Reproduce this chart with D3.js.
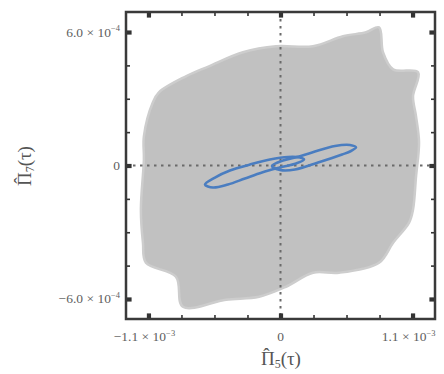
<!DOCTYPE html>
<html>
<head>
<meta charset="utf-8">
<script src="https://cdn.jsdelivr.net/npm/d3@7"></script>
<style>
  body { margin: 0; background: #fff; }
  text { font-family: "Liberation Serif", "DejaVu Serif", serif; }
</style>
</head>
<body>
<div id="chart"></div>
<script>
// x values in units of 1e-3, y values in units of 1e-4

// outline of the grey cloud of trajectories
var cloudX = [0.821, 0.854, 0.938, 1.146, 1.104, 1.129, 1.154, 1.129, 1.104, 1.071, 0.938, 0.821,
  0.488, 0.271, 0.046, -0.179, -0.454, -0.813, -0.871, -1.121, -1.146, -1.163, -1.138, -1.138,
  -1.063, -1.013, -0.788, -0.596, -0.313, -0.038, 0.271, 0.521, 0.713];
var cloudY = [6.21, 5.09, 4.32, 4.19, 3.11, 2.21, 1.04, -0.50, -1.98, -2.57, -3.47, -4.37,
  -4.82, -4.82, -5.45, -5.90, -6.03, -6.35, -5.00, -4.37, -3.47, -1.98, 0.27, 1.31,
  2.84, 3.29, 4.01, 4.46, 5.09, 5.36, 5.36, 5.81, 5.99];

// blue orbit, two overlapping loops
var loopAX = [-0.629, -0.546, -0.421, -0.254, -0.088, 0.063, 0.163, 0.196, 0.129, -0.004, -0.154, -0.296, -0.438, -0.563];
var loopAY = [-0.855, -0.54, -0.225, 0.045, 0.27, 0.383, 0.36, 0.27, 0.09, -0.09, -0.315, -0.585, -0.855, -0.99];
var loopBX = [-0.071, 0.021, 0.121, 0.263, 0.454, 0.579, 0.629, 0.579, 0.513, 0.313, 0.121, -0.004];
var loopBY = [-0.02, 0.225, 0.36, 0.585, 0.878, 0.923, 0.81, 0.63, 0.495, 0.135, -0.18, -0.2];

var xTicks = [-1.1, -0.825, -0.55, -0.275, 0, 0.275, 0.55, 0.825, 1.1];
var yTicks = [-6, -4.5, -3, -1.5, 0, 1.5, 3, 4.5, 6];
var xMajor = [-1.1, 0, 1.1];
var yMajor = [-6, 0, 6];
var xLabels = [["\u22121.1 \u00d7 10", "\u22123"], ["0", ""], ["1.1 \u00d7 10", "\u22123"]];
var yLabels = [["\u22126.0 \u00d7 10", "\u22124"], ["0", ""], ["6.0 \u00d7 10", "\u22124"]];

(function(d3) {
  'use strict';

  var width = 444, height = 374;
  var left = 126, right = 435, top = 12, bottom = 319;

  var x = d3.scaleLinear().domain([-1.287, 1.287]).range([left, right]);
  var y = d3.scaleLinear().domain([-6.9, 6.9]).range([bottom, top]);

  var svg = d3.select('#chart').append('svg')
    .attr('width', width)
    .attr('height', height);

  var closed = d3.line()
    .x(function(d) { return x(d[0]); })
    .y(function(d) { return y(d[1]); })
    .curve(d3.curveCatmullRomClosed);

  var cloud = cloudX.map(function(v, i) { return [v, cloudY[i]]; });
  svg.append('path')
    .attr('d', closed(cloud))
    .attr('fill', '#c1c1c1')
    .attr('stroke', '#cdcdcd')
    .attr('stroke-width', 2.5);

  // zero lines
  svg.append('line')
    .attr('x1', x(0)).attr('x2', x(0))
    .attr('y1', top).attr('y2', bottom)
    .attr('stroke', '#6a6a6a').attr('stroke-width', 2)
    .attr('stroke-dasharray', '2.5,4.5');
  svg.append('line')
    .attr('x1', left).attr('x2', right)
    .attr('y1', y(0)).attr('y2', y(0))
    .attr('stroke', '#6a6a6a').attr('stroke-width', 2)
    .attr('stroke-dasharray', '2.5,4.5');

  [[loopAX, loopAY], [loopBX, loopBY]].forEach(function(lp) {
    var pts = lp[0].map(function(v, i) { return [v, lp[1][i]]; });
    svg.append('path')
      .attr('d', closed(pts))
      .attr('fill', 'none')
      .attr('stroke', '#4a7dc0')
      .attr('stroke-width', 2.6);
  });

  // inward ticks on all four sides
  function ticks(axis, tr, vals, major) {
    var g = svg.append('g')
      .attr('transform', tr)
      .call(axis.tickValues(vals).tickSizeInner(-4).tickSizeOuter(0).tickFormat(''));
    g.select('.domain').remove();
    g.selectAll('.tick line')
      .attr('stroke', '#333')
      .attr('stroke-width', function(d) { return major.indexOf(d) >= 0 ? 3 : 1.6; })
      .attr('transform', function(d) {
        return major.indexOf(d) >= 0 ? 'scale(1.4)' : null;
      });
  }
  ticks(d3.axisBottom(x), 'translate(0,' + bottom + ')', xTicks, xMajor);
  ticks(d3.axisTop(x), 'translate(0,' + top + ')', xTicks, xMajor);
  ticks(d3.axisLeft(y), 'translate(' + left + ',0)', yTicks, yMajor);
  ticks(d3.axisRight(y), 'translate(' + right + ',0)', yTicks, yMajor);

  svg.append('rect')
    .attr('x', left).attr('y', top)
    .attr('width', right - left).attr('height', bottom - top)
    .attr('fill', 'none')
    .attr('stroke', '#3a3a3a')
    .attr('stroke-width', 2.5);

  // tick labels
  function label(t, px, py, anchor) {
    var el = svg.append('text')
      .attr('x', px).attr('y', py)
      .attr('text-anchor', anchor)
      .attr('fill', '#606060')
      .attr('font-size', 13.5);
    el.append('tspan').text(t[0]);
    if (t[1]) {
      el.append('tspan').attr('dy', -5.5).attr('font-size', 8.5).text(t[1]);
    }
  }
  xMajor.forEach(function(v, i) { label(xLabels[i], x(v) + (i === 1 ? 0 : -4), 341, 'middle'); });
  yMajor.forEach(function(v, i) { label(yLabels[i], 120, y(v) + 4.5, 'end'); });

  // axis titles: Pi with a hat, subscript, (tau)
  function title(sub, px, py, rot) {
    var el = svg.append('text')
      .attr('transform', 'translate(' + px + ',' + py + ')' + (rot ? ' rotate(-90)' : ''))
      .attr('text-anchor', 'middle')
      .attr('fill', '#555')
      .attr('font-size', 19);
    el.append('tspan').text('\u03a0');
    el.append('tspan').attr('dx', -11.5).attr('dy', -4).text('\u02c6');
    el.append('tspan').attr('dx', 5).attr('dy', 7).attr('font-size', 12).text(sub);
    el.append('tspan').attr('dy', -3).text('(\u03c4)');
  }
  title('5', 281, 365, false);
  title('7', 31, 166, true);

})(window.d3);
</script>
</body>
</html>
